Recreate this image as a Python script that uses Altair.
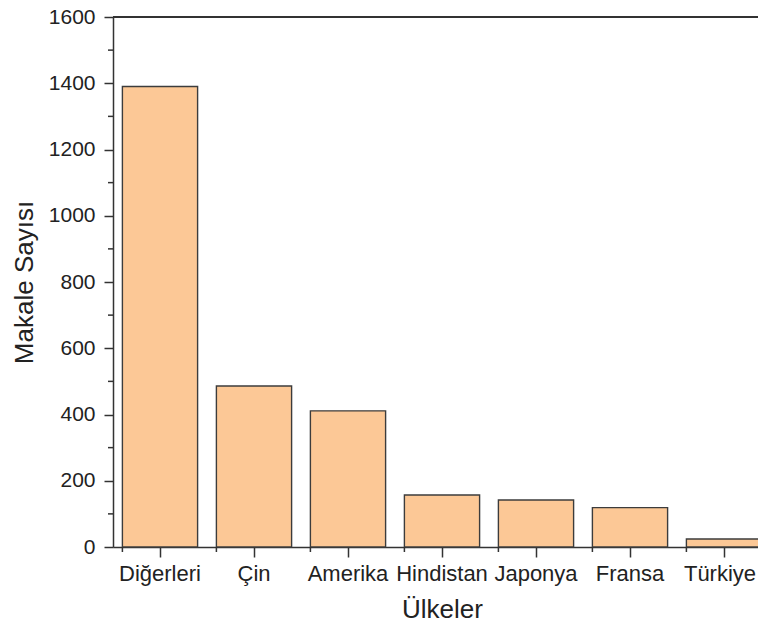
import altair as alt
import pandas as pd

countries = ["Diğerleri", "Çin", "Amerika", "Hindistan", "Japonya", "Fransa", "Türkiye"]
values = [1390, 486, 411, 157, 142, 119, 24]
major_y = [0, 200, 400, 600, 800, 1000, 1200, 1400, 1600]
minor_y = [100, 300, 500, 700, 900, 1100, 1300, 1500]

df = pd.DataFrame({"Ülke": countries, "Makale": values})
dfm = pd.DataFrame({"Makale": minor_y})

FONT = "Liberation Sans"
INK = "#333333"

xscale = alt.Scale(domain=countries, paddingInner=0.2, paddingOuter=0.1, range=[0, 658])
yscale = alt.Scale(domain=[0, 1600], nice=False, zero=True)

xaxis = alt.Axis(
    title="Ülkeler", labelAngle=0, tickSize=10, tickWidth=1.5, tickColor=INK,
    domainColor=INK, domainWidth=1.5, labelFont=FONT, labelFontSize=22,
    labelColor="#222222", labelPadding=6, titleFont=FONT, titleFontSize=26,
    titleFontWeight="normal", titleColor="#222222", titleBaseline="alphabetic",
    titleY=70, titleX=329, grid=False,
    labelOffset={"condition": {"test": "datum.value == 'Türkiye'", "value": -4}, "value": 0},
)
yaxis = alt.Axis(
    title="Makale Sayısı", values=major_y, format="d", tickSize=9, tickWidth=1.5,
    tickColor=INK, domainColor=INK, domainWidth=1.5, labelFont=FONT,
    labelFontSize=21, labelColor="#222222", labelPadding=9, titleFont=FONT,
    titleFontSize=26, titleFontWeight="normal", titleColor="#222222",
    titleX=-76, titleY=265, grid=False,
)

bars = alt.Chart(df).mark_bar(
    fill="#FCC896", stroke="#3c3c3c", strokeWidth=1.4
).encode(
    x=alt.X("Ülke:N", scale=xscale, sort=countries, axis=xaxis),
    y=alt.Y("Makale:Q", scale=yscale, axis=yaxis),
)

yminor = alt.Chart(dfm).mark_rule(stroke=INK, strokeWidth=1.5).encode(
    y=alt.Y("Makale:Q", scale=yscale, axis=yaxis),
    x=alt.value(-5),
    x2=alt.value(0),
)

xminor = alt.Chart(df).mark_rule(stroke=INK, strokeWidth=1.5).encode(
    x=alt.X("Ülke:N", scale=xscale, sort=countries, axis=xaxis, bandPosition=0),
    y=alt.value(530),
    y2=alt.value(535),
)

topline = alt.Chart(dfm).mark_rule(stroke=INK, strokeWidth=1.5).encode(
    x=alt.value(0), x2=alt.value(660), y=alt.value(0)
)

chart = alt.layer(bars, yminor, xminor, topline).properties(
    width=645, height=530,
    background="white",
    autosize=alt.AutoSizeParams(type="none"),
    padding={"left": 105, "top": 9, "right": 0, "bottom": 77},
).configure_view(
    strokeWidth=0
)

chart.save("out.html", embed_options={"renderer": "svg", "actions": False})
